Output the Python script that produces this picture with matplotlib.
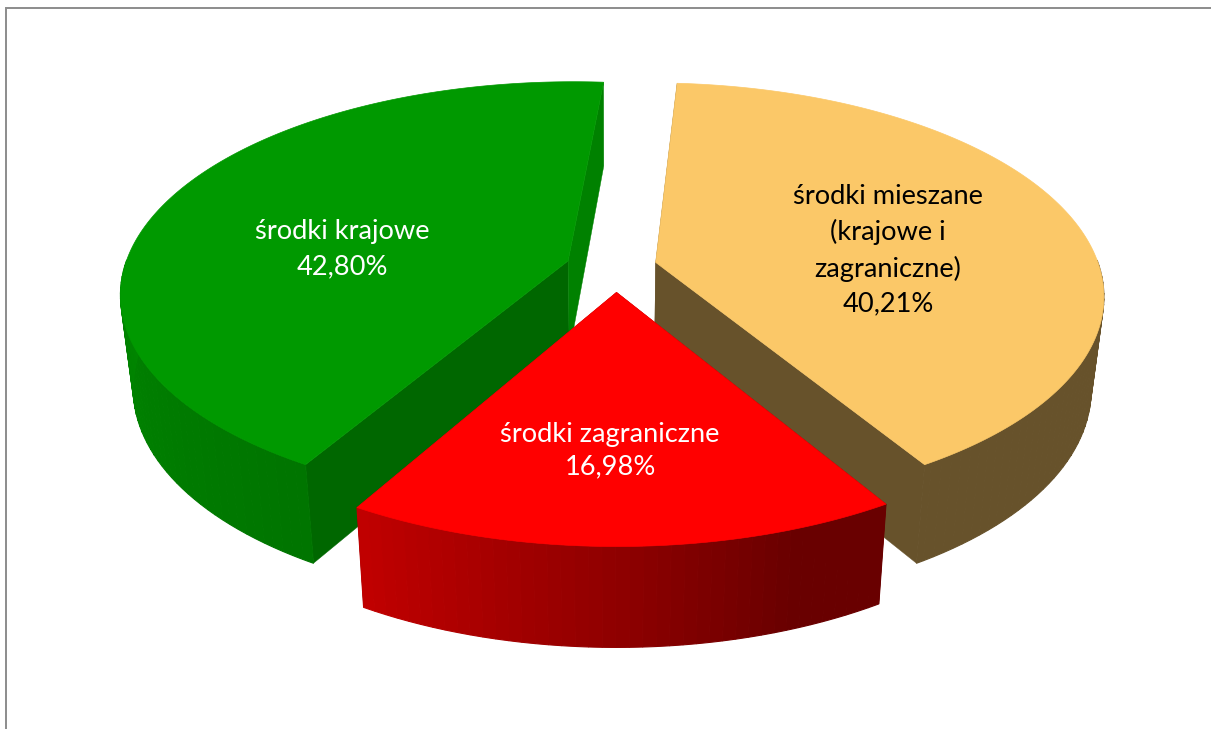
"""Exploded 3D pie: sources of funding, drawn with a hand-made perspective."""

import numpy as np
import matplotlib
matplotlib.use("Agg")
import matplotlib.pyplot as plt

# --- Data (clockwise from the top, starting with the yellow slice) ---
LABELS = ["środki mieszane\n(krajowe i\nzagraniczne)", "środki zagraniczne", "środki krajowe"]
VALUES = [40.21, 16.98, 42.80]
COLORS = ["#FBC868", "#FF0000", "#009900"]
TEXT_COLORS = ["black", "white", "white"]
LABEL_X = [888, 610, 342]
LABEL_Y = [250, 451, 249]
LINE_SPACING = [1.49, 1.36, 1.49]

# --- Projection (pixels) ---
W, H = 1211, 729
CX, CY = 611, 268
A, B = 444, 208
K = 0.15
EXPLODE_X, EXPLODE_Y = 0.097, 0.115
SHIFT_X = [3, 5, -2]  # the slices do not sit quite symmetric around CX
TURN = [0, 0, 0.5]  # degrees, same reason
START_ANGLE = 4.0
BOTTOM_SCALE = 0.974
DEPTH, DEPTH_SLOPE = 92, 8

# Side brightness against the compass angle of the rim
SHADE_ANGLE = [0, 160, 180, 210, 270, 370]
SHADE_VALUE = [0.41, 0.41, 0.56, 0.76, 0.87, 0.87]
# Cut faces: at the start and at the end of each slice's sweep
CUT_START_SHADE = [0.41, 0.41, 0.67]
CUT_END_SHADE = [0.41, 0.41, 0.84]


def project(x, y, shift=0):
    s = 1 / (1 - K * y)
    return CX + shift + A * x * s, CY + B * y * s


def drop(sx, sy, y):
    return CX + (sx - CX) * BOTTOM_SCALE, sy + DEPTH + DEPTH_SLOPE * y


def shaded(color, f):
    rgb = np.array(matplotlib.colors.to_rgb(color))
    return tuple(rgb * f)


def prism_face(ax, x, y, color, shift, lw=0.3):
    sx, sy = project(x, y, shift)
    bx, by = drop(sx, sy, y)
    px = np.r_[sx, bx[::-1]]
    py = np.r_[sy, by[::-1]]
    ax.fill(px, py, color=color, lw=lw, zorder=2)


fig = plt.figure(figsize=(W / 100, H / 100), dpi=100)
ax = fig.add_axes([0, 0, 1, 1])
ax.set_xlim(0, W)
ax.set_ylim(H, 0)
ax.axis("off")

# Frame cut by the picture on the right and at the bottom
ax.plot([5.5, 5.5, W], [H, 7.5, 7.5], color="#8c8c8c", lw=1.4, solid_joinstyle="miter")

sweep = 360 * np.array(VALUES) / np.sum(VALUES)
starts = START_ANGLE + np.r_[0, np.cumsum(sweep)[:-1]]

for i in [2, 0, 1]:  # back slices first
    t0, t1 = starts[i] + TURN[i], starts[i] + TURN[i] + sweep[i]
    mid = np.radians((t0 + t1) / 2)
    ox, oy = EXPLODE_X * np.sin(mid), -EXPLODE_Y * np.cos(mid)
    theta = np.linspace(t0, t1, int(sweep[i] * 2) + 2)
    rad = np.radians(theta)
    rim_x, rim_y = ox + np.sin(rad), oy - np.cos(rad)

    # Cut faces: apex to the rim on both ends
    prism_face(ax, np.array([ox, rim_x[0]]), np.array([oy, rim_y[0]]),
               shaded(COLORS[i], CUT_START_SHADE[i]), SHIFT_X[i])
    prism_face(ax, np.array([ox, rim_x[-1]]), np.array([oy, rim_y[-1]]),
               shaded(COLORS[i], CUT_END_SHADE[i]), SHIFT_X[i])

    # Outer wall, in narrow bands for the gradient; the back part stays hidden
    for j in range(0, len(theta) - 1, 3):
        k = min(j + 3, len(theta) - 1)
        if rim_y[j:k + 1].mean() < -0.05:
            continue
        f = np.interp((theta[j] + theta[k]) / 2, SHADE_ANGLE, SHADE_VALUE)
        prism_face(ax, rim_x[j:k + 1], rim_y[j:k + 1], shaded(COLORS[i], f), SHIFT_X[i], lw=0.8)

    # Top
    sx, sy = project(np.r_[ox, rim_x], np.r_[oy, rim_y], SHIFT_X[i])
    ax.fill(sx, sy, color=COLORS[i], lw=0.5, zorder=2)

for i in range(3):
    ax.text(LABEL_X[i], LABEL_Y[i], f"{LABELS[i]}\n{VALUES[i]:.2f}%".replace(".", ","),
            ha="center", va="center", color=TEXT_COLORS[i], family="Lato",
            fontsize=19.6, linespacing=LINE_SPACING[i], zorder=5)

fig.savefig("out.png", dpi=100, facecolor="white")
